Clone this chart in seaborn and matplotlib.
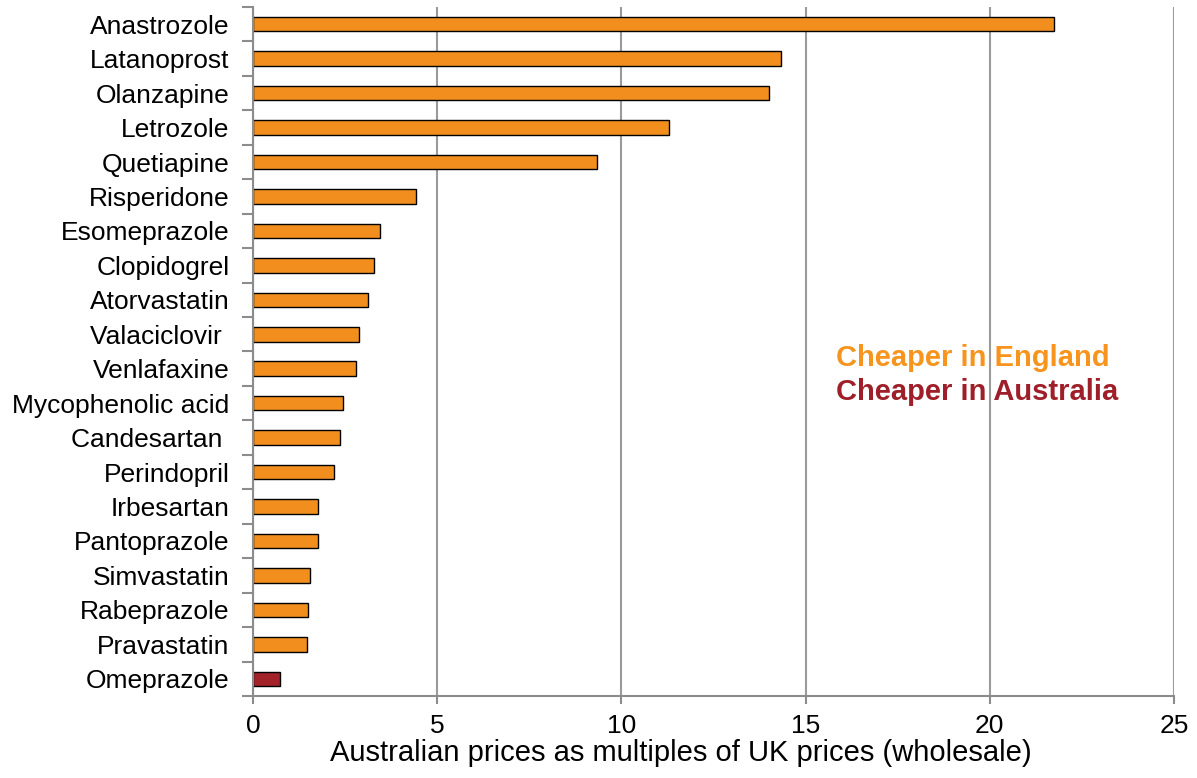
import matplotlib
matplotlib.use("Agg")
import matplotlib.pyplot as plt
import seaborn as sns
import pandas as pd
import numpy as np

drugs = ["Anastrozole", "Latanoprost", "Olanzapine", "Letrozole", "Quetiapine",
         "Risperidone", "Esomeprazole", "Clopidogrel", "Atorvastatin", "Valaciclovir ",
         "Venlafaxine", "Mycophenolic acid", "Candesartan ", "Perindopril", "Irbesartan",
         "Pantoprazole", "Simvastatin", "Rabeprazole", "Pravastatin", "Omeprazole"]
multiples = [21.74, 14.33, 14.0, 11.29, 9.33, 4.42, 3.45, 3.28, 3.12, 2.89,
             2.79, 2.45, 2.36, 2.19, 1.77, 1.76, 1.56, 1.48, 1.47, 0.74]
groups = ["Cheaper in England"] * 19 + ["Cheaper in Australia"]
palette = {"Cheaper in England": "#F28E1E", "Cheaper in Australia": "#A3222A"}
text_colors = {"Cheaper in England": "#F7941D", "Cheaper in Australia": "#9E1F29"}
xticks = [0, 5, 10, 15, 20, 25]

df = pd.DataFrame({"drug": drugs, "value": multiples, "group": groups})

sns.set_theme(style="white")
plt.rcParams["font.family"] = ["Liberation Sans", "DejaVu Sans"]
plt.rcParams["text.color"] = "black"
plt.rcParams["xtick.color"] = "black"
plt.rcParams["ytick.color"] = "black"
plt.rcParams["axes.labelcolor"] = "black"

fig = plt.figure(figsize=(11.97, 7.78), dpi=100)
ax = fig.add_axes([253 / 1197, 1 - 696 / 778, (1174 - 253) / 1197, (696 - 7) / 778])

sns.barplot(data=df, x="value", y="drug", hue="group", palette=palette,
            order=drugs, dodge=False, width=0.42, edgecolor="black",
            linewidth=1.0, saturation=1, legend=False, ax=ax, orient="h")

ax.set_xlim(0, 25)
ax.set_ylim(len(drugs) - 0.5, -0.5)
ax.set_xticks(xticks)
ax.set_xticklabels([str(t) for t in xticks], fontsize=19)
ax.xaxis.grid(True, color="#9a9a9a", linewidth=1.5)
ax.yaxis.grid(False)
ax.set_axisbelow(True)

ax.set_yticks(range(len(drugs)))
ax.set_yticklabels(drugs, fontsize=19)
ax.tick_params(axis="y", which="major", length=0, pad=17, labelcolor="black")
ax.set_yticks(np.arange(-0.5, len(drugs), 1.0), minor=True)
ax.tick_params(axis="y", which="minor", length=8, width=1.5, color="#8c8c8c", left=True)
ax.tick_params(axis="x", which="major", length=6, width=1.5, color="#8c8c8c",
               bottom=True, pad=7, labelcolor="black")

for s in ["top", "right"]:
    ax.spines[s].set_visible(False)
for s in ["left", "bottom"]:
    ax.spines[s].set_color("#8c8c8c")
    ax.spines[s].set_linewidth(1.5)

ax.set_ylabel("")
ax.set_xlabel("Australian prices as multiples of UK prices (wholesale)", fontsize=21,
              labelpad=1, color="black", x=0.4647)

ax.text(15.82, 9.7, "Cheaper in England", color=text_colors["Cheaper in England"],
        fontsize=21, fontweight="bold", va="center", ha="left")
ax.text(15.82, 10.68, "Cheaper in Australia", color=text_colors["Cheaper in Australia"],
        fontsize=21, fontweight="bold", va="center", ha="left")

fig.savefig("out.png", dpi=100)
